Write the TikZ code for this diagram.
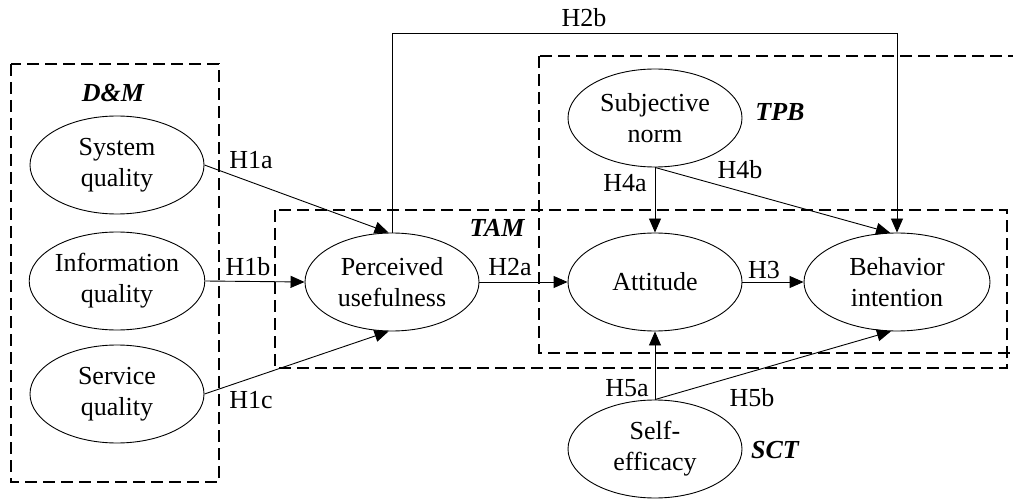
\documentclass[tikz,border=0pt]{standalone}
\usepackage{fontspec}
\setmainfont{Liberation Serif}
\usetikzlibrary{shapes.geometric,arrows.meta}
\begin{document}
\begin{tikzpicture}[x=1pt,y=-1pt,
  cons/.style={draw,ellipse,minimum width=174pt,minimum height=98pt,inner sep=0pt,align=center,font=\fontsize{26}{31}\selectfont,line width=0.9pt},
  grp/.style={draw,dash pattern=on 12pt off 6pt,line width=1.8pt},
  lab/.style={font=\fontsize{26}{31}\selectfont,inner sep=0pt},
  tag/.style={font=\fontsize{26}{31}\selectfont\bfseries\itshape,inner sep=0pt},
  arr/.style={-{Triangle[length=14pt,width=12pt]},line width=0.9pt}]
\useasboundingbox (0,0) rectangle (1013,500);
% group boxes
\draw[grp] (11,64) rectangle (219,482);
\draw[grp] (275,210) rectangle (1007,368);
\draw[grp] (539,56) rectangle (1013.5,353);
% constructs
\node[cons] (sys) at (117,165) {System\\quality};
\node[cons] (inf) at (117,281) {Information\\quality};
\node[cons] (ser) at (117,394) {Service\\quality};
\node[cons] (pu) at (392,282) {Perceived\\usefulness};
\node[cons] (sn) at (655,118) {Subjective\\norm};
\node[cons] (att) at (655,282) {Attitude};
\node[cons,minimum width=186pt] (bi) at (897,282) {Behavior\\intention};
\node[cons] (se) at (655,449) {Self-\\efficacy};
% tags
\node[tag] (tdm) at (113,93) {D\&M};
\node[tag] (ttam) at (497,228) {TAM};
\node[tag] (ttpb) at (780,112) {TPB};
\node[tag] (tsct) at (775,450) {SCT};
% connectors
\coordinate (top) at (0,33);
\draw[arr] (sys.east) -- (pu.94);
\draw[arr] (inf.east) -- (pu.west);
\draw[arr] (ser.east) -- (pu.266);
\draw[arr] (pu.east) -- (att.west);
\draw[arr] (att.east) -- (bi.west);
\draw[arr] (sn.south) -- (att.north);
\draw[arr] (sn.south) -- (bi.98);
\draw[arr] (se.north) -- (att.south);
\draw[arr] (se.north) -- (bi.263);
\draw[arr] (pu.north) -- (pu.north |- top) -| (bi.north);
% labels
\node[lab] (h1a) at (251,160) {H1a};
\node[lab] (h1b) at (248,267) {H1b};
\node[lab] (h1c) at (251,400) {H1c};
\node[lab] (h2a) at (510,267) {H2a};
\node[lab] (h2b) at (584,18) {H2b};
\node[lab] (h3) at (764,270) {H3};
\node[lab] (h4a) at (625,183) {H4a};
\node[lab] (h4b) at (740,170) {H4b};
\node[lab] (h5a) at (627,388) {H5a};
\node[lab] (h5b) at (752,398) {H5b};
\end{tikzpicture}
\end{document}
